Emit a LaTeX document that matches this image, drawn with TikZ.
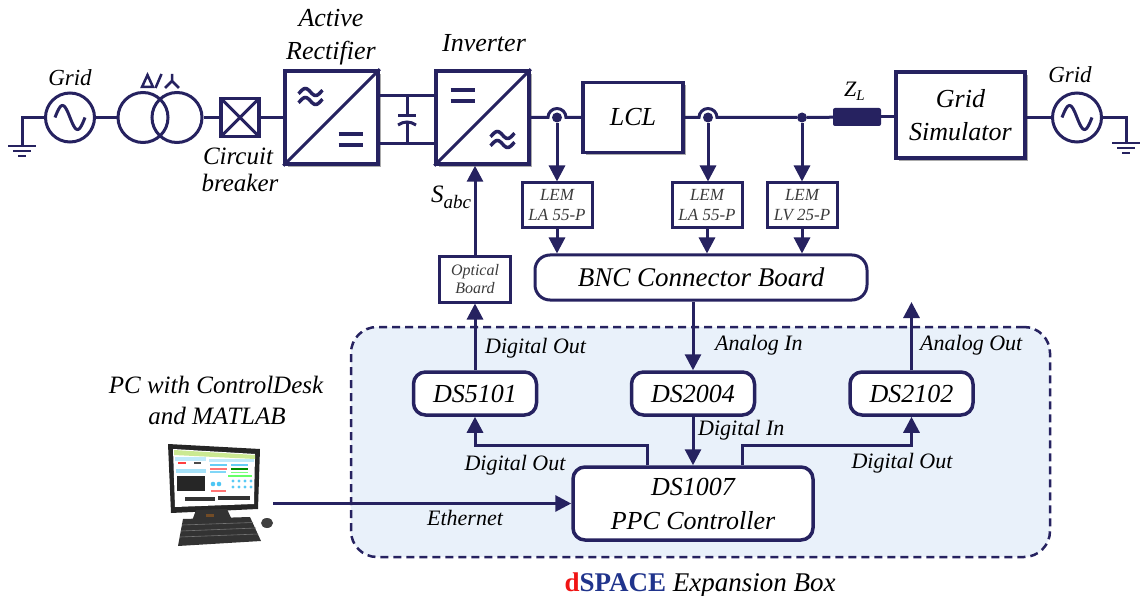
\documentclass[tikz,border=0pt]{standalone}
\usepackage{fontspec}
\setmainfont{Liberation Serif}[ItalicFont={Liberation Serif Italic}, BoldFont={Liberation Serif Bold}]
\usetikzlibrary{arrows.meta,shadows,calc}

\definecolor{navy}{RGB}{38,34,96}
\definecolor{xboxfill}{RGB}{233,241,250}
\definecolor{dsred}{RGB}{240,20,20}
\definecolor{dsblue}{RGB}{32,52,140}
\definecolor{lemtext}{RGB}{60,60,60}

\tikzset{
  wire/.style={draw=navy, line width=3pt},
  sig/.style={draw=navy, line width=3pt, -{Triangle[length=16pt,width=16pt]}},
  blk/.style={draw=navy, line width=3.5pt, fill=white, inner sep=0pt},
  shblk/.style={blk, drop shadow={shadow xshift=3pt, shadow yshift=-3pt, fill=black!55, opacity=.6}},
  rblk/.style={blk, rounded corners=12pt},
  lemblk/.style={blk, line width=3pt, minimum width=70pt, minimum height=45pt,
     font=\fontsize{17}{20}\selectfont\itshape, text=lemtext, align=center},
  src/.style={circle, draw=navy, line width=3pt, minimum size=49pt, inner sep=0pt},
  jdot/.style={circle, fill=navy, minimum size=10pt, inner sep=0pt},
  big/.style={font=\fontsize{26}{33}\selectfont\itshape},
  lbl/.style={font=\fontsize{25}{28}\selectfont\itshape, inner sep=0pt, anchor=base},
  tag/.style={font=\fontsize{22}{24}\selectfont\itshape, inner sep=0pt},
  symb/.style={draw=navy, line width=3.5pt},
  gnd/.style={draw=navy, line width=2.5pt},
  pics/eqsign/.style={code={\draw[symb] (-12,-5.5) -- (12,-5.5) (-12,5.5) -- (12,5.5);}},
  pics/approxsign/.style={code={
    \draw[symb] plot[domain=-30:390,samples=30,smooth] ({-12+(\x+30)*24/420},{-4.5-3.5*sin(\x)});
    \draw[symb] plot[domain=-30:390,samples=30,smooth] ({-12+(\x+30)*24/420},{4.5-3.5*sin(\x)});}},
  pics/acwave/.style={code={
    \draw[navy, line width=3pt] plot[domain=0:360,samples=40,smooth] ({-15+\x/12},{-12*sin(\x)});}},
}

\begin{document}
\begin{tikzpicture}[x=1pt,y=-1pt]
\useasboundingbox (0,0) rectangle (1141,596);

% ---------- dSPACE expansion box ----------
\node[draw=navy, line width=2.5pt, dash pattern=on 8pt off 5pt, fill=xboxfill,
      rounded corners=26pt, minimum width=699pt, minimum height=230pt] (xbox) at (700.5,442) {};
\node[anchor=base, inner sep=0pt, font=\fontsize{27}{30}\selectfont] (xboxlbl) at (700,591)
  {\textbf{\textcolor{dsred}{d}\textcolor{dsblue}{SPACE}} \textit{Expansion Box}};

% ---------- grid side ----------
\node[src] (gridL) at (70,117.5) {};
\pic at (gridL) {acwave};
\node[lbl, font=\fontsize{23}{26}\selectfont\itshape] (gridLlbl) at (70,86) {Grid};
\coordinate (gndL) at (22,146);
\draw[wire] (gridL.west) -| (gndL);
\draw[gnd] (8,146) -- (36,146) (13,151) -- (31,151) (18,156) -- (26,156);

% transformer
\node[src, minimum size=50pt] (trA) at (143,117.5) {};
\node[src, minimum size=50pt] (trB) at (177,117.5) {};
\draw[wire] (gridL) -- (trA);
\draw[navy, line width=2.5pt, line join=miter] (142,87) -- (153,87) -- (147.5,75) -- cycle;
\draw[navy, line width=2.5pt] (155.5,88) -- (161.5,74);
\draw[navy, line width=2.5pt] (172,74) -- (172,81) -- (165,88) (172,81) -- (179,88);

% circuit breaker
\node[blk, minimum size=38pt, fill=none, outer sep=0pt] (cb) at (240,117.5) {};
\draw[wire] (cb.north west) -- (cb.south east) (cb.north east) -- (cb.south west);
\draw[wire] (trB) -- (cb);
\node[lbl] (cblbl1) at (238,165) {Circuit};
\node[lbl] (cblbl2) at (240,192) {breaker};

% active rectifier
\node[shblk, minimum size=93pt] (rect) at (331.5,117.5) {};
\draw[wire] (rect.south west) -- (rect.north east);
\pic at ($(rect.center)+(-21,-21)$) {approxsign};
\pic at ($(rect.center)+(19,22)$) {eqsign};
\draw[wire] (cb) -- (rect);
\node[lbl, font=\fontsize{26}{28}\selectfont\itshape] (arlbl1) at (331,27) {Active};
\node[lbl, font=\fontsize{26}{28}\selectfont\itshape] (arlbl2) at (331,60) {Rectifier};

% inverter
\node[shblk, minimum size=93pt] (inv) at (482.5,117.5) {};
\draw[wire] (inv.south west) -- (inv.north east);
\pic at ($(inv.center)+(-20,-22)$) {eqsign};
\pic at ($(inv.center)+(20,22)$) {approxsign};
\node[lbl, font=\fontsize{26}{28}\selectfont\itshape] (invlbl) at (484,52) {Inverter};

% DC link with capacitor
\draw[wire] ($(rect.east)+(0,-22)$) -- ($(inv.west)+(0,-22)$);
\draw[wire] ($(rect.east)+(0,26.5)$) -- ($(inv.west)+(0,26.5)$);
\coordinate (capT) at (407,95.5);
\coordinate (capB) at (407,144);
\draw[wire] (capT) -- (407,116) (407,122) -- (capB);
\draw[navy, line width=3pt] (398,116) -- (416,116);
\draw[navy, line width=3pt] (398,125) .. controls (404,121) and (410,121) .. (416,125);

% ---------- output side ----------
\node[jdot] (s1) at (557,117.5) {};
\node[shblk, minimum width=100pt, minimum height=70pt, big] (lcl) at (633,117.5) {LCL};
\node[jdot] (s2) at (708,117.5) {};
\node[jdot] (s3) at (802,117.5) {};
\node[fill=navy, rounded corners=2pt, minimum width=48pt, minimum height=18pt, inner sep=0pt] (zl) at (857,117) {};
\node[anchor=base west, inner sep=0pt, font=\fontsize{22}{24}\selectfont\itshape] (zllbl) at (844,97)
  {Z\raisebox{-4pt}{\fontsize{15}{15}\selectfont L}};
\node[shblk, minimum width=129pt, minimum height=86pt, big, align=center] (gsim) at (960.5,115) {Grid\\Simulator};
\node[src] (gridR) at (1077,117.5) {};
\pic at (gridR) {acwave};
\node[lbl, font=\fontsize{23}{26}\selectfont\itshape] (gridRlbl) at (1070,83) {Grid};
\coordinate (gndR) at (1126,143);

\draw[wire] (inv.east) -- ($(s1)+(-9,0)$) arc[start angle=180, end angle=360, radius=9] -- (lcl.west);
\draw[wire] (lcl.east) -- ($(s2)+(-9,0)$) arc[start angle=180, end angle=360, radius=9] -- (s3) -- (zl);
\draw[wire] (zl.east) -- (zl.east -| gsim.west);
\draw[wire] (gsim.east |- gridR) -- (gridR);
\draw[wire] (gridR.east) -| (gndR);
\draw[gnd] (1112,143) -- (1140,143) (1117,148) -- (1135,148) (1122,153) -- (1130,153);

% ---------- measurement chain ----------
\node[lemblk] (lem1) at (557,205.5) {LEM\\LA 55-P};
\node[lemblk] (lem2) at (707,205.5) {LEM\\LA 55-P};
\node[lemblk] (lem3) at (802,205.5) {LEM\\LV 25-P};
\draw[sig] (s1) -- (lem1);
\draw[sig] (s2) -- (s2 |- lem2.north);
\draw[sig] (s3) -- (lem3);

\node[rblk, line width=3pt, minimum width=332pt, minimum height=45pt, rounded corners=15pt,
      font=\fontsize{27}{30}\selectfont\itshape] (bnc) at (701,277.5) {BNC Connector Board};
\draw[sig] (lem1) -- (lem1 |- bnc.north);
\draw[sig] (lem2) -- (lem2 |- bnc.north);
\draw[sig] (lem3) -- (lem3 |- bnc.north);

\node[lemblk, minimum width=71pt, font=\fontsize{16}{18}\selectfont\itshape] (opt) at (475,279.5) {Optical\\Board};
\draw[sig] (opt) -- (opt |- inv.south);
\node[anchor=base west, inner sep=0pt, font=\fontsize{25}{28}\selectfont\itshape] (sabc) at (431,203)
  {S\raisebox{-6pt}{\fontsize{19}{19}\selectfont abc}};

% ---------- dSPACE boards ----------
\node[rblk, minimum width=123pt, minimum height=43pt, big] (ds5101) at (475,393.5) {DS5101};
\node[rblk, minimum width=123pt, minimum height=43pt, big] (ds2004) at (693,393.5) {DS2004};
\node[rblk, minimum width=123pt, minimum height=43pt, big] (ds2102) at (911.5,393.5) {DS2102};
\node[rblk, minimum width=240pt, minimum height=73pt, align=center,
      font=\fontsize{26}{34}\selectfont\itshape] (ds1007) at (693,503.5) {DS1007\\PPC Controller};

\coordinate (aout) at (911.5,302);
\coordinate (pcport) at (273,503.5);
\draw[sig] (ds5101) -- (opt);
\draw[sig] (bnc.south -| ds2004) -- (ds2004);
\draw[sig] (ds2102) -- (aout);
\draw[sig] (ds2004) -- (ds2004 |- ds1007.north);
\draw[sig] ([xshift=-46pt]ds1007.north) -- ++(0,-20) -| (ds5101);
\draw[sig] ([xshift=49pt]ds1007.north) -- ++(0,-20) -| (ds2102);
\draw[sig] (pcport) -- (ds1007);

\node[tag, anchor=base west] (t1) at (485,353) {Digital Out};
\node[tag, anchor=base west] (t2) at (715,350) {Analog In};
\node[tag, anchor=base west] (t3) at (920,350) {Analog Out};
\node[tag, anchor=base west] (t4) at (698,435) {Digital In};
\node[tag, anchor=base] (t5) at (515,470) {Digital Out};
\node[tag, anchor=base] (t6) at (902,468) {Digital Out};
\node[tag, anchor=base] (t7) at (465,525) {Ethernet};

% ---------- host PC ----------
\node[lbl] (pclbl1) at (216,393) {PC with ControlDesk};
\node[lbl] (pclbl2) at (217,424) {and MATLAB};

\fill[black!85] (168,444) -- (260,449) -- (258,509) -- (171,513) -- cycle;
\fill[white] (173,449) -- (255,454) -- (254,504) -- (175,507) -- cycle;
\fill[yellow!55!green!45] (174,450) -- (255,455) -- (255,459) -- (174,455) -- cycle;
\fill[cyan!25] (175,457) rectangle (206,461);
\fill[red!75] (178,462) rectangle (186,464);
\fill[black!70] (194,462) rectangle (201,464);
\fill[cyan!35] (176,469) rectangle (206,473);
\fill[black!85] (177,476) rectangle (205,491);
\fill[cyan!25] (209,459) rectangle (254,462);
\fill[cyan!60] (210,464) rectangle (227,466);
\fill[cyan!60] (231,464) rectangle (248,466);
\fill[red!55] (210,468) rectangle (227,469.5);
\fill[green!55!black] (231,468) rectangle (248,470);
\fill[cyan!50] (210,471) rectangle (226,472.5);
\fill[green!50] (231,471.5) rectangle (248,473);
\fill[green!60] (228,475) rectangle (252,477);
\fill[cyan!70] (213,484) circle[radius=2.3] (219,484) circle[radius=2.3];
\foreach \cx in {233,239,245,251} {
  \fill[cyan!65] (\cx,481) circle[radius=1.7] (\cx,487) circle[radius=1.7];
}
\fill[red!55] (211,490) rectangle (226,491.5);
\fill[black!80] (185,497) rectangle (215,501);
\fill[black!80] (218,496) rectangle (250,500);
\fill[black!80] (196,510) -- (227,509) -- (232,520) -- (192,521) -- cycle;
\fill[brown!60!black] (206,514) rectangle (214,517);
\fill[black!80] (183,519) -- (250,517) -- (261,541) -- (178,546) -- cycle;
\draw[black!55, line width=0.6pt] (182,525) -- (253,522.5) (181,531) -- (256,528) (180,537) -- (258,534);
\fill[black!75] (267,523) ellipse[x radius=6, y radius=5];

\end{tikzpicture}
\end{document}
